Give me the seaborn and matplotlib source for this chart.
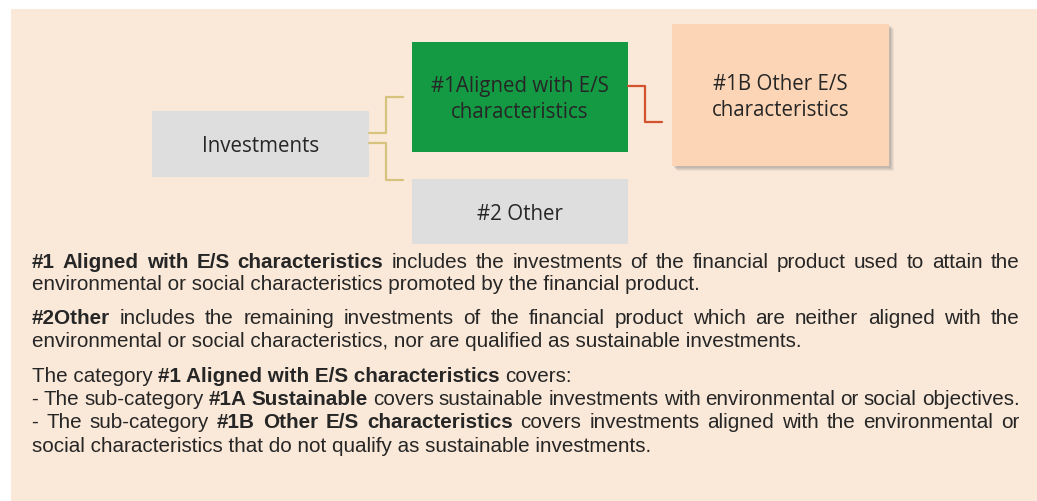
import matplotlib.pyplot as plt
import matplotlib.patches as mpatches
import seaborn as sns

sns.set_theme(style="white")
plt.rcParams['font.family'] = ['Liberation Sans', 'DejaVu Sans']

# diagram labels
box_labels = ["Investments", "#1Aligned with E/S\ncharacteristics", "#2 Other", "#1B Other E/S\ncharacteristics"]
box_colors = ["#dedede", "#139a43", "#dedede", "#fbd5b5"]

# explanation text: each line is a list of (text, bold) segments, plus a justify flag
para_lines = [
    ([("#1 Aligned with E/S characteristics", True),
      ("includes the investments of the financial product used to attain the", False)], True),
    ([("environmental or social characteristics promoted by the financial product.", False)], False),
    ([("#2Other", True),
      ("includes the remaining investments of the financial product which are neither aligned with the", False)], True),
    ([("environmental or social characteristics, nor are qualified as sustainable investments.", False)], False),
    ([("The category", False), ("#1 Aligned with E/S characteristics", True), ("covers:", False)], False),
    ([("- The sub-category", False), ("#1A Sustainable", True),
      ("covers sustainable investments with environmental or social objectives.", False)], True),
    ([("- The sub-category", False), ("#1B Other E/S characteristics", True),
      ("covers investments aligned with the environmental or", False)], True),
    ([("social characteristics that do not qualify as sustainable investments.", False)], False),
]
line_baselines = [267.5, 290.5, 324, 347, 381.5, 405, 428, 451.5]

W, H = 1037, 501
fig = plt.figure(figsize=(W / 100, H / 100), dpi=100)
fig.patch.set_facecolor("white")
ax = fig.add_axes([0, 0, 1, 1])
ax.set_xlim(0, W)
ax.set_ylim(H, 0)
ax.axis("off")

# panel background
ax.add_patch(mpatches.Rectangle((11, 9), W - 11, H - 9, color="#fae8d8", lw=0, zorder=0))

# boxes (x, y, w, h) in pixels
box_geom = [(152, 111, 217, 66), (412, 42, 216, 110), (412, 179, 216, 65), (672, 24, 217, 142)]

# soft shadow behind the #1B box
bx, by, bw, bh = box_geom[3]
for off, a in [(5, 0.10), (4, 0.12), (3, 0.15), (2, 0.18)]:
    ax.add_patch(mpatches.Rectangle((bx + off, by + off), bw, bh, color="#7f7f7f", alpha=a, lw=0, zorder=1))

for (x, y, w, h), lab, col in zip(box_geom, box_labels, box_colors):
    ax.add_patch(mpatches.Rectangle((x, y), w, h, color=col, lw=0, zorder=2))
    ax.text(x + w / 2, y + h / 2 + 2.5, lab, ha="center", va="center", fontsize=14.8,
            family=["Open Sans", "DejaVu Sans"], color="#262626", linespacing=1.3, zorder=3)

# connectors
ax.plot([369, 386, 386, 403], [133, 133, 97, 97], color="#d6c47e", lw=1.6, zorder=2)
ax.plot([369, 386, 386, 403], [143, 143, 180, 180], color="#d6c47e", lw=1.6, zorder=2)
ax.plot([628, 645, 645, 662], [86, 86, 122, 122], color="#d5522f", lw=1.6, zorder=2)

# paragraph text with manual justification
renderer = fig.canvas.get_renderer()
fs = 14.9
x_left, x_right = 31.5, 1019.5


def text_width(s, bold):
    t = ax.text(0, 0, s, fontsize=fs, fontweight="bold" if bold else "normal")
    w = t.get_window_extent(renderer).width
    t.remove()
    return w


space_w = text_width("a a", False) - text_width("aa", False)

for (segs, justify), yb in zip(para_lines, line_baselines):
    if justify:
        pieces = [(wd, bold) for s, bold in segs for wd in s.split(" ")]
    else:
        pieces = list(segs)
    widths = [text_width(p, b) for p, b in pieces]
    gap = (x_right - x_left - sum(widths)) / (len(pieces) - 1) if justify else space_w
    x = x_left
    for (p, bold), w in zip(pieces, widths):
        ax.text(x, yb, p, fontsize=fs, fontweight="bold" if bold else "normal",
                color="#262626", ha="left", va="baseline", zorder=3)
        x += w + gap

fig.savefig("out.png", dpi=100)
